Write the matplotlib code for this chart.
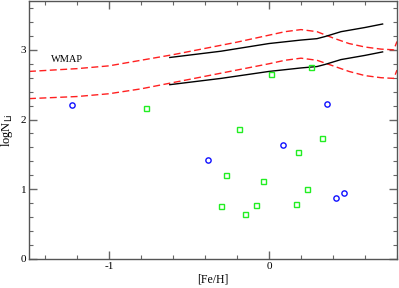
import numpy as np
import matplotlib.pyplot as plt
from matplotlib.ticker import MultipleLocator

# Data
blue_feh = [-1.23, -0.38, 0.09, 0.36, 0.42, 0.47]
blue_li = [2.21, 1.42, 1.64, 2.23, 0.88, 0.95]

green_feh = [-0.77, 0.01, 0.26, -0.19, 0.33, 0.18, -0.27, -0.04, 0.24, -0.30, -0.08, -0.15, 0.17]
green_li = [2.16, 2.66, 2.76, 1.86, 1.74, 1.53, 1.20, 1.12, 1.00, 0.76, 0.77, 0.65, 0.79]

# WMAP band (red dashed)
wmap_feh = [-1.5, -1.2, -1.0, -0.8, -0.6, -0.4, -0.2, 0.0, 0.1, 0.2, 0.3, 0.4, 0.5, 0.6, 0.7, 0.78, 0.8]
wmap_hi = [2.69, 2.73, 2.77, 2.85, 2.93, 3.02, 3.11, 3.21, 3.26, 3.29, 3.26, 3.17, 3.09, 3.04, 3.01, 3.00, 3.12]
wmap_lo = [2.30, 2.33, 2.37, 2.44, 2.53, 2.62, 2.71, 2.80, 2.85, 2.88, 2.85, 2.77, 2.69, 2.63, 2.60, 2.59, 2.71]

# model band (black solid)
mod_feh = [-0.62, -0.3, 0.0, 0.2, 0.3, 0.35, 0.45, 0.6, 0.71]
mod_hi = [2.89, 2.98, 3.09, 3.14, 3.16, 3.19, 3.26, 3.32, 3.37]
mod_lo = [2.50, 2.59, 2.69, 2.74, 2.76, 2.79, 2.86, 2.92, 2.97]

plt.rcParams['font.family'] = ['Liberation Serif', 'DejaVu Serif']

fig = plt.figure(figsize=(3.99, 2.88), dpi=100)
ax = fig.add_axes([29/399, 1 - 259/288, 368/399, 258/288])

for y in (wmap_hi, wmap_lo):
    ax.plot(wmap_feh, y, color='#ff2020', lw=1.0, dashes=(5, 2.5))
for y in (mod_hi, mod_lo):
    ax.plot(mod_feh, y, color='black', lw=1.0)

ax.plot(blue_feh, blue_li, 'o', ms=3.8, mfc='none', mec='#1010ff', mew=1.0)
ax.plot(green_feh, green_li, 's', ms=3.6, mfc='none', mec='#22ee22', mew=1.0)

ax.text(-1.36, 2.83, 'WMAP', fontsize=7.5)

ax.set_xlim(-1.5, 0.8)
ax.set_ylim(0, 3.7)
ax.xaxis.set_major_locator(MultipleLocator(1))
ax.xaxis.set_minor_locator(MultipleLocator(0.2))
ax.yaxis.set_major_locator(MultipleLocator(1))
ax.yaxis.set_minor_locator(MultipleLocator(0.2))
ax.tick_params(which='both', direction='in', top=True, right=True, color='#666666', labelsize=8, pad=2)
ax.tick_params(which='major', length=6, width=1.0)
ax.tick_params(which='minor', length=3, width=0.8)
ax.xaxis.set_major_formatter(plt.FuncFormatter(lambda v, p: '%d' % v))
ax.yaxis.set_major_formatter(plt.FuncFormatter(lambda v, p: '%d' % v))
for s in ax.spines.values():
    s.set_color('#555555')
    s.set_linewidth(1.0)

ax.set_xlabel('[Fe/H]', fontsize=8.5, labelpad=2)
ax.set_ylabel(r'logN$_{\mathrm{Li}}$', fontsize=9, labelpad=4)

fig.savefig('out.png', dpi=100)
